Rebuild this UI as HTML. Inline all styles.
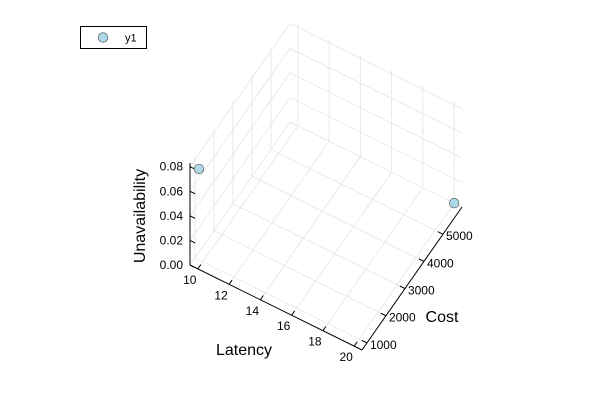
<!DOCTYPE html>
<html><head><meta charset="utf-8"><style>
body{margin:0;background:#fff}
svg{display:block;font-family:"Liberation Sans",sans-serif}
</style></head><body>
<svg id="c" width="600" height="400" viewBox="0 0 600 400"></svg>
<script>
const latency = [10, 20];
const cost = [800, 6000];
const unavailability = [0.08, 0.0];
const xTicks = [10, 12, 14, 16, 18, 20];
const yTicks = [1000, 2000, 3000, 4000, 5000];
const zTicks = [0, 0.02, 0.04, 0.06, 0.08];
const zTickLabels = ["0.00","0.02","0.04","0.06","0.08"];

const X0=9.5, X1=20.5, Y0=740, Y1=6000, Z0=0, Z1=0.083;
const O=[190,265], EX=[172,85], EY=[100,-143], EZ=[0,-102];
function P(x,y,z){
  const a=(x-X0)/(X1-X0), b=(y-Y0)/(Y1-Y0), c=(z-Z0)/(Z1-Z0);
  return [O[0]+a*EX[0]+b*EY[0]+c*EZ[0], O[1]+a*EX[1]+b*EY[1]+c*EZ[1]];
}
const svg=document.getElementById('c');
const NS='http://www.w3.org/2000/svg';
function el(t,attrs,parent){const e=document.createElementNS(NS,t);for(const k in attrs)e.setAttribute(k,attrs[k]);(parent||svg).appendChild(e);return e;}
function line(p,q,stroke,w,g){return el('line',{x1:p[0],y1:p[1],x2:q[0],y2:q[1],stroke:stroke,'stroke-width':w},g);}

const grid=el('g',{});


const gc='#e4e4e4';
for(const x of xTicks){line(P(x,Y0,0),P(x,Y1,0),gc,0.8,grid);line(P(x,Y1,Z0),P(x,Y1,Z1),gc,0.8,grid);}
for(const y of yTicks){line(P(X0,y,0),P(X1,y,0),gc,0.8,grid);line(P(X0,y,Z0),P(X0,y,Z1),gc,0.8,grid);}
for(const z of zTicks){line(P(X0,Y0,z),P(X0,Y1,z),gc,0.8,grid);line(P(X0,Y1,z),P(X1,Y1,z),gc,0.8,grid);}

const axes=el('g',{});


line(P(X0,Y0,0),P(X1,Y0,0),'#000',1,axes);
line(P(X1,Y0,0),P(X1,Y1,0),'#000',1,axes);
line(P(X0,Y0,Z0),P(X0,Y0,Z1),'#000',1,axes);
const tl=12;
for(const x of xTicks){const p=P(x,Y0,0),q=P(x,Y0+(Y1-Y0)*0.03,0);line(p,q,'#000',1,axes);
  const t=el('text',{x:p[0]-8,y:p[1]+15,'font-size':tl,'text-anchor':'middle',fill:'#000'},axes);t.textContent=x;
  }
for(const y of yTicks){const p=P(X1,y,0),q=P(X1-(X1-X0)*0.03,y,0);line(p,q,'#000',1,axes);
  const t=el('text',{x:p[0]+3,y:p[1]+6,'font-size':tl,'text-anchor':'start',fill:'#000'},axes);t.textContent=y;
  }
zTicks.forEach((z,i)=>{const p=P(X0,Y0,z),q=P(X0+(X1-X0)*0.03,Y0,z);line(p,q,'#000',1,axes);
  const t=el('text',{x:p[0]-7,y:p[1]+4,'font-size':tl,'text-anchor':'end',fill:'#000'},axes);t.textContent=zTickLabels[i];
  });

let t=el('text',{x:244,y:355,'font-size':16,'text-anchor':'middle'});t.textContent='Latency';

t=el('text',{x:442,y:322,'font-size':16,'text-anchor':'middle'});t.textContent='Cost';

t=el('text',{x:145,y:216,'font-size':16,'text-anchor':'middle',transform:'rotate(-90 145 216)'});t.textContent='Unavailability';


for(let i=0;i<latency.length;i++){const p=P(latency[i],cost[i],unavailability[i]);
  const c=el('circle',{cx:p[0],cy:p[1],r:4.8,fill:'#add8e6',stroke:'#4a4a4a','stroke-width':0.6});
  }

const lg=el('g',{});


el('rect',{x:80.5,y:26.5,width:66,height:22,fill:'#fff',stroke:'#000','stroke-width':1},lg);
el('circle',{cx:103,cy:37.5,r:4.8,fill:'#add8e6',stroke:'#4a4a4a','stroke-width':0.6},lg);
t=el('text',{x:125,y:41.5,'font-size':11},lg);t.textContent='y1';

</script>
</body></html>
